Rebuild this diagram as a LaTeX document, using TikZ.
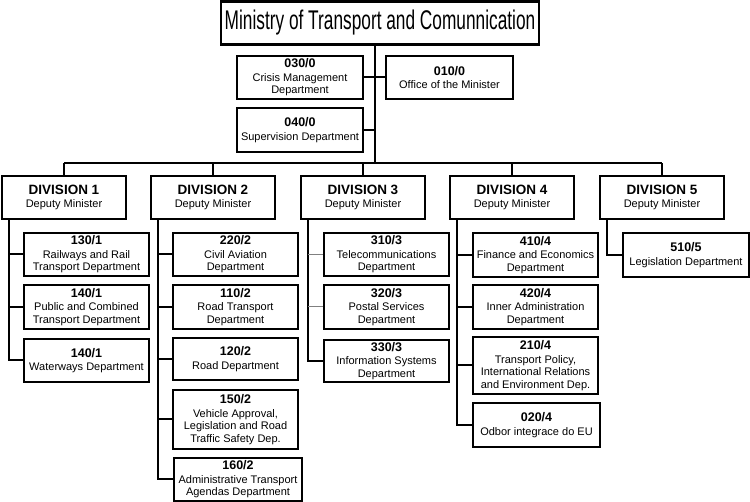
\documentclass[tikz,border=0pt]{standalone}
\usepackage{fontspec}
\setmainfont{Liberation Sans}
\usepackage{graphicx}

\newcommand{\deptext}[2]{{\fontsize{12.5}{14}\selectfont\bfseries #1}\\[1pt]#2}
\newcommand{\divtext}[1]{{\fontsize{13.5}{14}\selectfont\bfseries DIVISION #1}\\Deputy Minister}

\begin{document}
\begin{tikzpicture}[x=1pt,y=-1pt,
		box/.style={draw,line width=2.2pt,align=center,inner sep=1pt,minimum width=125pt,minimum height=43pt,font=\fontsize{11}{12.5}\selectfont},
		link/.style={line width=2pt},
		faint link/.style={line width=1pt,gray}]
	\useasboundingbox (0,0) rectangle (750,502);
	
	\node[box,minimum width=318pt] (min) at (380,23) {\scalebox{.64}[1]{\fontsize{27}{27}\selectfont Ministry of Transport and Comunnication}};
	\node[box,minimum width=126pt] (crisis) at (300,77.5) {\deptext{030/0}{Crisis Management\\Department}};
	\node[box,minimum width=127pt] (office) at (449.5,77.5) {\deptext{010/0}{Office of the Minister}};
	\node[box,minimum width=126pt,minimum height=44pt] (super) at (300,130) {\deptext{040/0}{Supervision Department}};
	
	\coordinate (bus) at (375,163);
	\draw[link] (min.south -| bus) -- (bus);
	\draw[link] (crisis.east) -- (office.west);
	\draw[link] (super.east) -- (super.east -| bus);
	
	\node[box,minimum width=124pt] (d1) at (64,197.5) {\divtext{1}};
	\node[box,minimum width=124pt] (d2) at (213,197.5) {\divtext{2}};
	\node[box,minimum width=124pt] (d3) at (363,197.5) {\divtext{3}};
	\node[box,minimum width=124pt] (d4) at (512,197.5) {\divtext{4}};
	\node[box,minimum width=124pt] (d5) at (662,197.5) {\divtext{5}};
	
	\draw[link] (d1.north |- bus) -- (d5.north |- bus);
	\draw[link] (d1.north) -- (d1.north |- bus); \draw[link] (d2.north) -- (d2.north |- bus);
	\draw[link] (d3.north) -- (d3.north |- bus); \draw[link] (d4.north) -- (d4.north |- bus);
	\draw[link] (d5.north) -- (d5.north |- bus);
	
	% division 1
	\node[box] (c11) at (86.5,254.5) {\deptext{130/1}{Railways and Rail\\Transport Department}};
	\node[box,minimum height=44pt] (c12) at (86.5,307) {\deptext{140/1}{Public and Combined\\Transport Department}};
	\node[box] (c13) at (86.5,360.5) {\deptext{140/1}{Waterways Department}};
	\coordinate (s1) at ([xshift=8pt]d1.south west);
	\draw[link] (s1) |- (c13.west);
	\draw[link] (c11.west) -- (c11.west -| s1); \draw[link] (c12.west) -- (c12.west -| s1);
	
	% division 2
	\node[box] (c21) at (235.5,254.5) {\deptext{220/2}{Civil Aviation\\Department}};
	\node[box,minimum height=44pt] (c22) at (235.5,307) {\deptext{110/2}{Road Transport\\Department}};
	\node[box,minimum height=42pt] (c23) at (235.5,359) {\deptext{120/2}{Road Department}};
	\node[box,minimum height=59pt] (c24) at (235.5,419.5) {\deptext{150/2}{Vehicle Approval,\\Legislation and Road\\Traffic Safety Dep.}};
	\node[box,minimum width=128pt] (c25) at (238,479.5) {\deptext{160/2}{Administrative Transport\\Agendas Department}};
	\coordinate (s2) at ([xshift=8pt]d2.south west);
	\draw[link] (s2) |- (c25.west);
	\draw[link] (c21.west) -- (c21.west -| s2); \draw[link] (c22.west) -- (c22.west -| s2);
	\draw[link] (c23.west) -- (c23.west -| s2); \draw[link] (c24.west) -- (c24.west -| s2);
	
	% division 3
	\node[box] (c31) at (386.5,254.5) {\deptext{310/3}{Telecommunications\\Department}};
	\node[box,minimum height=44pt] (c32) at (386.5,307) {\deptext{320/3}{Postal Services\\Department}};
	\node[box,minimum height=42pt] (c33) at (386.5,361) {\deptext{330/3}{Information Systems\\Department}};
	\coordinate (s3) at ([xshift=8pt]d3.south west);
	\draw[link] (s3) |- (c33.west);
	\draw[faint link] (c31.west) -- (c31.west -| s3); \draw[faint link] (c32.west) -- (c32.west -| s3);
	
	% division 4
	\node[box,minimum height=44pt] (c41) at (535.5,255) {\deptext{410/4}{Finance and Economics\\Department}};
	\node[box,minimum height=44pt] (c42) at (535.5,307) {\deptext{420/4}{Inner Administration\\Department}};
	\node[box,minimum height=57pt] (c43) at (535.5,365.5) {\deptext{210/4}{Transport Policy,\\International Relations\\and Environment Dep.}};
	\node[box,minimum width=127pt,minimum height=44pt] (c44) at (536.5,425) {\deptext{020/4}{Odbor integrace do EU}};
	\coordinate (s4) at ([xshift=8pt]d4.south west);
	\draw[link] (s4) |- (c44.west);
	\draw[link] (c41.west) -- (c41.west -| s4); \draw[link] (c42.west) -- (c42.west -| s4);
	\draw[link] (c43.west) -- (c43.west -| s4);
	
	% division 5
	\node[box,minimum width=126pt,minimum height=44pt] (c51) at (686,255) {\deptext{510/5}{Legislation Department}};
	\coordinate (s5) at ([xshift=8pt]d5.south west);
	\draw[link] (s5) |- (c51.west);
\end{tikzpicture}
\end{document}
